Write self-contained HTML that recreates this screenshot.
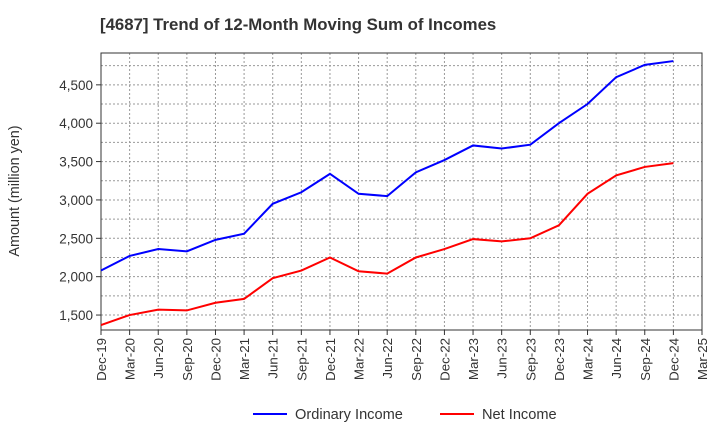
<!DOCTYPE html>
<html><head><meta charset="utf-8"><style>
body{margin:0;background:#fff;font-family:"Liberation Sans",sans-serif}
</style></head><body>
<svg id="chart" width="720" height="440" xmlns="http://www.w3.org/2000/svg" font-family="Liberation Sans, sans-serif">
<text x="100" y="30" font-size="16.8" font-weight="bold" fill="#333">[4687]  Trend of 12-Month Moving Sum of Incomes</text>
<text transform="translate(19,191) rotate(-90)" text-anchor="middle" font-size="14.4" fill="#333">Amount (million yen)</text>
<g id="grid"></g><g id="axes"></g><g id="series"></g>
<g>
<line x1="253" y1="414" x2="287" y2="414" stroke="#0000ff" stroke-width="2"/>
<text x="295" y="419" font-size="14.6" fill="#333">Ordinary Income</text>
<line x1="440" y1="414" x2="474" y2="414" stroke="#ff0000" stroke-width="2"/>
<text x="482" y="419" font-size="14.6" fill="#333">Net Income</text>
</g>
</svg>
<script>
const categories=["Dec-19","Mar-20","Jun-20","Sep-20","Dec-20","Mar-21","Jun-21","Sep-21","Dec-21","Mar-22","Jun-22","Sep-22","Dec-22","Mar-23","Jun-23","Sep-23","Dec-23","Mar-24","Jun-24","Sep-24","Dec-24","Mar-25"];
const ordinaryIncome=[2080,2270,2360,2330,2480,2560,2950,3100,3340,3080,3050,3360,3520,3710,3670,3720,4000,4250,4600,4760,4810];
const netIncome=[1370,1500,1570,1560,1660,1710,1980,2080,2250,2070,2040,2250,2360,2490,2460,2500,2670,3080,3320,3430,3480];
const yTicks=[1500,2000,2500,3000,3500,4000,4500];
const L=101,R=702,T=53,B=330,ymin=1305,ymax=4915;
const ns="http://www.w3.org/2000/svg";
const x=i=>L+(R-L)*i/(categories.length-1);
const y=v=>B-(v-ymin)/(ymax-ymin)*(B-T);
function mk(t,a,p){const e=document.createElementNS(ns,t);for(const k in a)e.setAttribute(k,a[k]);p.appendChild(e);return e;}
const grid=document.getElementById('grid'),axes=document.getElementById('axes'),ser=document.getElementById('series');
for(let i=1;i<categories.length-1;i++){const g=mk('line',{x1:x(i),x2:x(i),y1:T,y2:B,stroke:'#999','stroke-dasharray':'2,2','stroke-width':1},grid);

}
for(let v=1500;v<ymax;v+=250){const g=mk('line',{x1:L,x2:R,y1:y(v),y2:y(v),stroke:'#999','stroke-dasharray':'2,2','stroke-width':1},grid);

}
const fr=mk('rect',{x:L,y:T,width:R-L,height:B-T,fill:'none',stroke:'#333'},axes);


yTicks.forEach(v=>{mk('line',{x1:L-5,x2:L,y1:y(v),y2:y(v),stroke:'#333'},axes);
const t=mk('text',{x:L-8,y:y(v)+5,'text-anchor':'end','font-size':13.5,fill:'#333'},axes);t.textContent=v.toLocaleString('en-US');

});
categories.forEach((c,i)=>{mk('line',{x1:x(i),x2:x(i),y1:B,y2:B+5,stroke:'#333'},axes);
const t=mk('text',{transform:`translate(${x(i)+5},${B+8}) rotate(-90)`,'text-anchor':'end','font-size':13.3,fill:'#333'},axes);t.textContent=c;

});
[[ordinaryIncome,'#0000ff','ordinary-income-line'],[netIncome,'#ff0000','net-income-line']].forEach(([d,c,n])=>{
const p=mk('polyline',{points:d.map((v,i)=>x(i)+','+y(v)).join(' '),fill:'none',stroke:c,'stroke-width':2},ser);

});
</script>
</body></html>
